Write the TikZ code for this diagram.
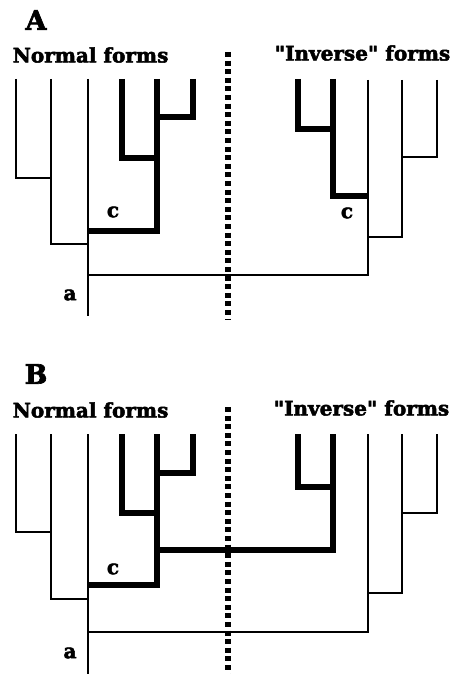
\documentclass[tikz,border=0pt]{standalone}
\usepackage{fontspec}
\newfontfamily\slabfont{DejaVu Serif}[BoldFeatures={FakeBold=2.5}]
\begin{document}
\begin{tikzpicture}[x=1pt,y=-1pt,
  thinbranch/.style={line width=2.4pt,line join=miter},
  thickbranch/.style={line width=5.4pt,line join=miter},
  divider/.style={line width=5.5pt,dash pattern=on 5pt off 3.6pt},
  paneltag/.style={font=\slabfont\bfseries\fontsize{27}{27}\selectfont,inner sep=0pt},
  grouptitle/.style={font=\slabfont\bfseries\fontsize{20}{22}\selectfont,inner sep=0pt},
  nodetag/.style={font=\slabfont\bfseries\fontsize{20}{20}\selectfont,inner sep=0pt}]
\useasboundingbox (0,0) rectangle (456,674);
\fill[white] (0,0) rectangle (456,674);

% ---------- panel A ----------
\node[paneltag] (tagA) at (36,20) {A};
\node[grouptitle] (normA) at (90.5,55) {Normal forms};
\node[grouptitle] (invA) at (362.5,53) {"Inverse" forms};

\coordinate (Atop) at (228,52);
\coordinate (Abot) at (228,319);
\draw[divider] (Atop) -- (Abot);

% normal forms (left)
\coordinate (A1) at (16,79);  \coordinate (A1b) at (16,178);
\coordinate (A2) at (51,79);  \coordinate (A2b) at (51,244);
\coordinate (A3) at (88,79);  \coordinate (A3b) at (88,316);
\coordinate (A4) at (122,79); \coordinate (A4b) at (122,158);
\coordinate (A5) at (157,79); \coordinate (A5b) at (157,231);
\coordinate (A6) at (193,79); \coordinate (A6b) at (193,117);
\draw[thinbranch] (A1) -- (A1b) -- (A2 |- A1b);
\draw[thinbranch] (A2) -- (A2b) -- (A3 |- A2b);
\draw[thinbranch] (A3) -- (A3b);
\draw[thickbranch] (A4) -- (A4b) -- (A5 |- A4b);
\draw[thickbranch] (A6) -- (A6b) -- (A5 |- A6b);
\draw[thickbranch] (A5) -- (A5b) -- (A3 |- A5b);
\node[nodetag] (cA) at (113,212) {c};
\node[nodetag] (aA) at (70,295) {a};

% inverse forms (right)
\coordinate (R1) at (298,79); \coordinate (R1b) at (298,129);
\coordinate (R2) at (333,79); \coordinate (R2b) at (333,196);
\coordinate (R3) at (368,80); \coordinate (R3b) at (368,275);
\coordinate (R4) at (402,80); \coordinate (R4b) at (402,237);
\coordinate (R5) at (437,80); \coordinate (R5b) at (437,157);
\draw[thickbranch] (R1) -- (R1b) -- (R2 |- R1b);
\draw[thickbranch] (R2) -- (R2b) -- (R3 |- R2b);
\draw[thinbranch] (R5) -- (R5b) -- (R4 |- R5b);
\draw[thinbranch] (R4) -- (R4b) -- (R3 |- R4b);
\draw[thinbranch] (R3) -- (R3b) -- (A3 |- R3b);
\node[nodetag] (cA2) at (347,213) {c};

% ---------- panel B ----------
\node[paneltag] (tagB) at (36,374) {B};
\node[grouptitle] (normB) at (90.5,410) {Normal forms};
\node[grouptitle] (invB) at (361.5,408) {"Inverse" forms};

\coordinate (Btop) at (228,407);
\coordinate (Bbot) at (228,674);
\draw[divider] (Btop) -- (Bbot);

% normal forms (left)
\coordinate (B1) at (16,434);  \coordinate (B1b) at (16,532);
\coordinate (B2) at (51,434);  \coordinate (B2b) at (51,599);
\coordinate (B3) at (88,434);  \coordinate (B3b) at (88,674);
\coordinate (B4) at (122,434); \coordinate (B4b) at (122,513);
\coordinate (B5) at (157,434); \coordinate (B5b) at (157,585);
\coordinate (B6) at (193,434); \coordinate (B6b) at (193,473);
\coordinate (B5m) at (157,550);
\draw[thinbranch] (B1) -- (B1b) -- (B2 |- B1b);
\draw[thinbranch] (B2) -- (B2b) -- (B3 |- B2b);
\draw[thinbranch] (B3) -- (B3b);
\draw[thickbranch] (B4) -- (B4b) -- (B5 |- B4b);
\draw[thickbranch] (B6) -- (B6b) -- (B5 |- B6b);
\draw[thickbranch] (B5) -- (B5b) -- (B3 |- B5b);
\node[nodetag] (cB) at (113,569) {c};
\node[nodetag] (aB) at (70,653) {a};

% inverse forms (right)
\coordinate (S1) at (298,434); \coordinate (S1b) at (298,487);
\coordinate (S2) at (333,434); \coordinate (S2b) at (333,550);
\coordinate (S3) at (368,434); \coordinate (S3b) at (368,632);
\coordinate (S4) at (402,434); \coordinate (S4b) at (402,593);
\coordinate (S5) at (437,434); \coordinate (S5b) at (437,513);
\draw[thickbranch] (S1) -- (S1b) -- (S2 |- S1b);
\draw[thickbranch] (S2) -- (S2b) -- (B5m);
\draw[thinbranch] (S5) -- (S5b) -- (S4 |- S5b);
\draw[thinbranch] (S4) -- (S4b) -- (S3 |- S4b);
\draw[thinbranch] (S3) -- (S3b) -- (B3 |- S3b);
\end{tikzpicture}
\end{document}
